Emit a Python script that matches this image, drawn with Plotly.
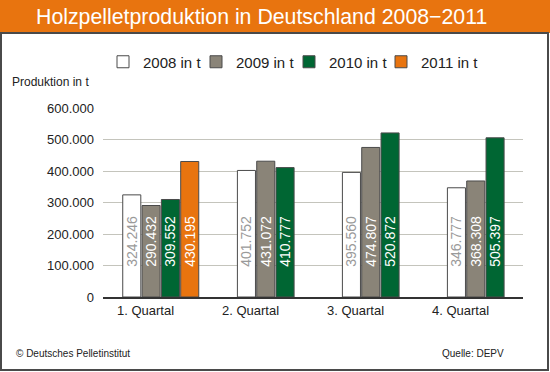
import plotly.graph_objects as go

categories = ["1. Quartal", "2. Quartal", "3. Quartal", "4. Quartal"]
years = ["2008 in t", "2009 in t", "2010 in t", "2011 in t"]
v2008 = [324246, 401752, 395560, 346777]
v2009 = [290432, 431072, 474807, 368308]
v2010 = [309552, 410777, 520872, 505397]
v2011 = [430195, None, None, None]
series = [v2008, v2009, v2010, v2011]

fill_colors = ["#ffffff", "#8a8478", "#006633", "#e8740f"]
text_colors = ["#9a9a9a", "#ffffff", "#ffffff", "#ffffff"]

W, H = 550, 372
L, R, T, B = 103, 27, 108, 75
pw, ph = W - L - R, H - T - B

BAR_W = 0.172
PITCH = 0.184

# legend entry left edges (px)
legend_x_px = [103, 196, 289, 381]
legend_ids = ["legend", "legend2", "legend3", "legend4"]

# number of bars present per category -> center each group
counts = [sum(1 for s in series if s[i] is not None) for i in range(len(categories))]

fig = go.Figure()
for k, (name, vals) in enumerate(zip(years, series)):
    offsets = []
    for i in range(len(categories)):
        idx = sum(1 for s in series[:k] if s[i] is not None)
        offsets.append(-counts[i] * PITCH / 2 + idx * PITCH + (PITCH - BAR_W) / 2 + 0.05)
    fig.add_trace(go.Bar(
        x=categories, y=vals, name=name, legend=legend_ids[k],
        width=BAR_W, offset=offsets,
        marker=dict(color=fill_colors[k], line=dict(color="#4a4a4a", width=1)),
        texttemplate="\u00a0" * 7 + "%{y:,.0f}",
        textposition="inside", insidetextanchor="start", textangle=-90,
        textfont=dict(color=text_colors[k], size=14, family="Liberation Sans, Arial"),
        hoverinfo="skip",
    ))

legend_common = dict(orientation="h", y=1 + (T - 62) / ph, xanchor="left", yanchor="middle",
                     font=dict(size=15, color="#222"), itemwidth=30, bgcolor="rgba(0,0,0,0)")

fig.update_layout(
    width=W, height=H,
    margin=dict(l=L, r=R, t=T, b=B, autoexpand=False),
    paper_bgcolor="white", plot_bgcolor="white",
    barmode="overlay",
    separators=",.",
    font=dict(family="Liberation Sans, Arial, sans-serif", size=13, color="#222"),
    uniformtext=dict(minsize=14, mode="show"),
    showlegend=True,
    xaxis=dict(range=[-0.5, 3.5], showgrid=False, showline=True, linecolor="#333", linewidth=2,
               ticks="", ticklabelshift=-10, tickfont=dict(size=13, color="#222")),
    yaxis=dict(range=[0, 600000], dtick=100000, tickformat=",.0f", showgrid=True,
               gridcolor="#c4c4bc", gridwidth=1, zeroline=False, ticks="", ticklen=0,
               ticklabelstandoff=8,
               tickfont=dict(size=13, color="#222")),
    shapes=[
        dict(type="rect", xref="paper", yref="paper",
             x0=-L / pw, x1=1 + R / pw, y0=1 + (T - 33) / ph, y1=1 + T / ph,
             fillcolor="#e8740f", line=dict(width=0), layer="below"),
        dict(type="rect", xref="paper", yref="paper",
             x0=(-L + 1) / pw, x1=1 + (R - 2) / pw, y0=-(B - 2) / ph, y1=1 + (T - 33) / ph,
             fillcolor="rgba(0,0,0,0)", line=dict(width=2, color="#4a4a4a")),
    ],
    annotations=[
        dict(text="Holzpelletproduktion in Deutschland 2008\u22122011",
             xref="paper", yref="paper", x=(261 - L) / pw, y=1 + (T - 17) / ph,
             xanchor="center", yanchor="middle", showarrow=False,
             font=dict(size=21.3, color="white")),
        dict(text="Produktion in t", xref="paper", yref="paper",
             x=-(L - 10) / pw, y=1 + (T - 82) / ph, xanchor="left", yanchor="middle",
             showarrow=False, font=dict(size=12, color="#222")),
        dict(text="\u00a9 Deutsches Pelletinstitut", xref="paper", yref="paper",
             x=-(L - 14) / pw, y=-(353 - (T + ph)) / ph, xanchor="left", yanchor="middle",
             showarrow=False, font=dict(size=10, color="#222")),
        dict(text="Quelle: DEPV", xref="paper", yref="paper",
             x=1 + (506 - (L + pw)) / pw, y=-(353 - (T + ph)) / ph, xanchor="right", yanchor="middle",
             showarrow=False, font=dict(size=10, color="#222")),
    ],
)
for lid, px in zip(legend_ids, legend_x_px):
    fig.update_layout({lid: dict(legend_common, x=(px - L) / pw)})

fig.write_html("out.html", config={"displayModeBar": False},
               post_script="document.body.style.margin='0';document.body.style.overflow='hidden';")
